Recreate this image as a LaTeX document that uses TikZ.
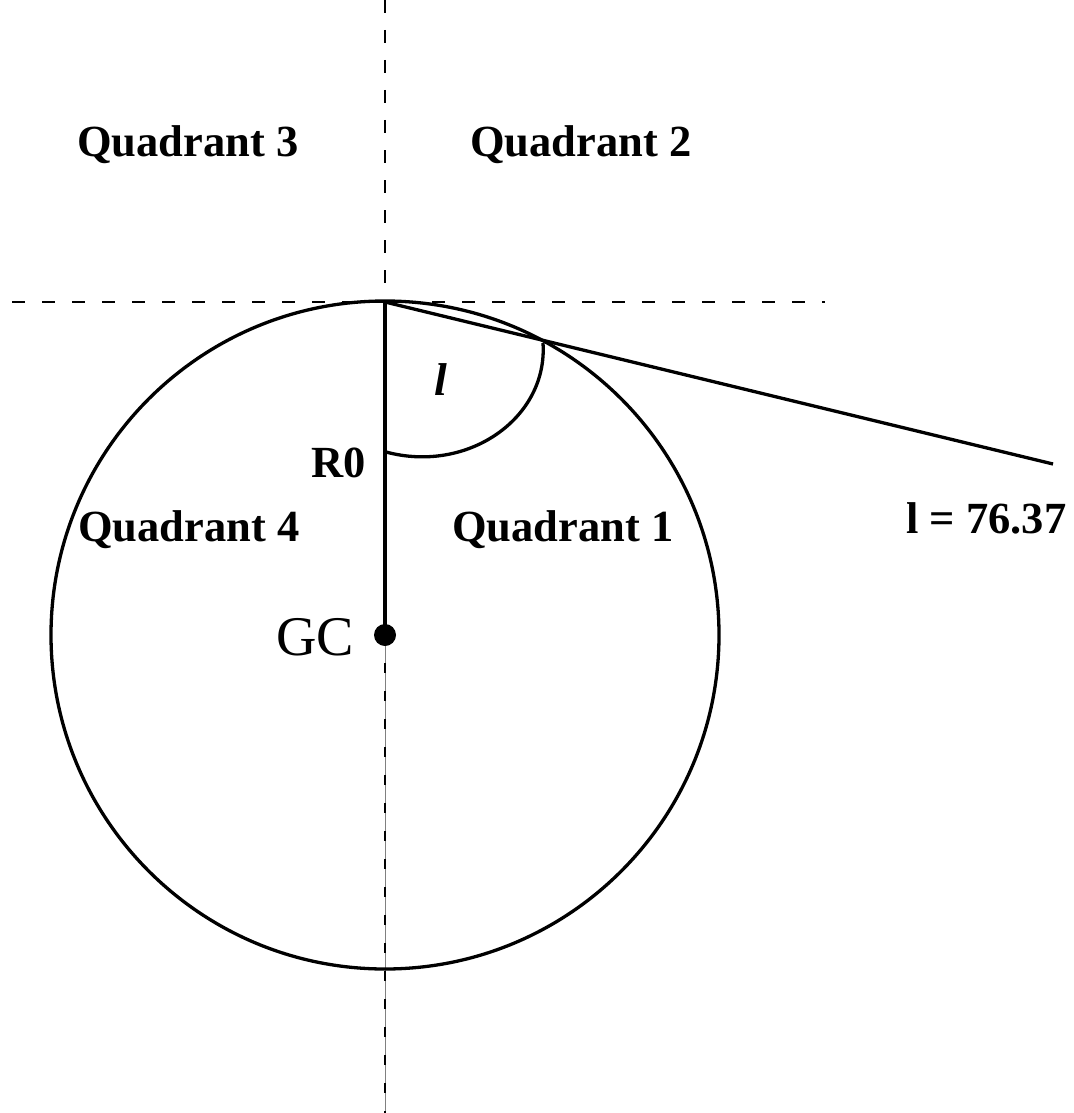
\documentclass[tikz,border=0pt]{standalone}
\usepackage{fontspec}
\setmainfont{Liberation Serif}
\begin{document}
\begin{tikzpicture}[x=1pt,y=-1pt,
  lbl/.style={inner sep=0pt,anchor=base west,font=\bfseries\fontsize{44.5}{52}\selectfont},
  thick line/.style={line width=3.3pt},
  dashline/.style={line width=2pt,dash pattern=on 13pt off 17pt}]
\useasboundingbox[fill=white] (0,0) rectangle (1073,1113);
\coordinate (top) at (385,302);
\coordinate (gc) at (385,635);
\coordinate (vtop) at (385,0);
\coordinate (vbot) at (385,1113);
\coordinate (hl) at (12,302);
\coordinate (hr) at (825,302);
\coordinate (tend) at (1053,464);
\coordinate (a1) at (386,452);
\coordinate (a2) at (543,343);
% dashed axes
\draw[dashline] (vtop) -- (top);
\draw[dashline] (hl) -- (hr);
\draw[gray,line width=0.8pt] (gc) -- (vbot);
\draw[line width=2pt,dash pattern=on 10pt off 18pt] (gc) -- (vbot);
% circle
\draw[thick line] (gc) circle[radius=334];
% radius and slanted line
\draw[thick line] (top) -- (gc);
\draw[thick line] (top) -- (tend);
% angle arc
\draw[thick line] (a1) .. controls (468,474) and (548,418) .. (a2);
% dot
\fill (gc) circle[radius=11];
% labels
\node[lbl] (q3) at (77,157) {Quadrant 3};
\node[lbl] (q2) at (470,157) {Quadrant 2};
\node[lbl] (q4) at (78,541) {Quadrant 4};
\node[lbl] (q1) at (452,541) {Quadrant 1};
\node[lbl] (r0) at (311,477) {R0};
\node[lbl] (lv) at (906,533) {l = 76.37};
\node[inner sep=0pt,anchor=base west,font=\bfseries\itshape\fontsize{46}{54}\selectfont] (l) at (434,395) {l};
\node[inner sep=0pt,anchor=base west,font=\fontsize{56}{66}\selectfont] (gctext) at (276,655) {GC};
\end{tikzpicture}
\end{document}
